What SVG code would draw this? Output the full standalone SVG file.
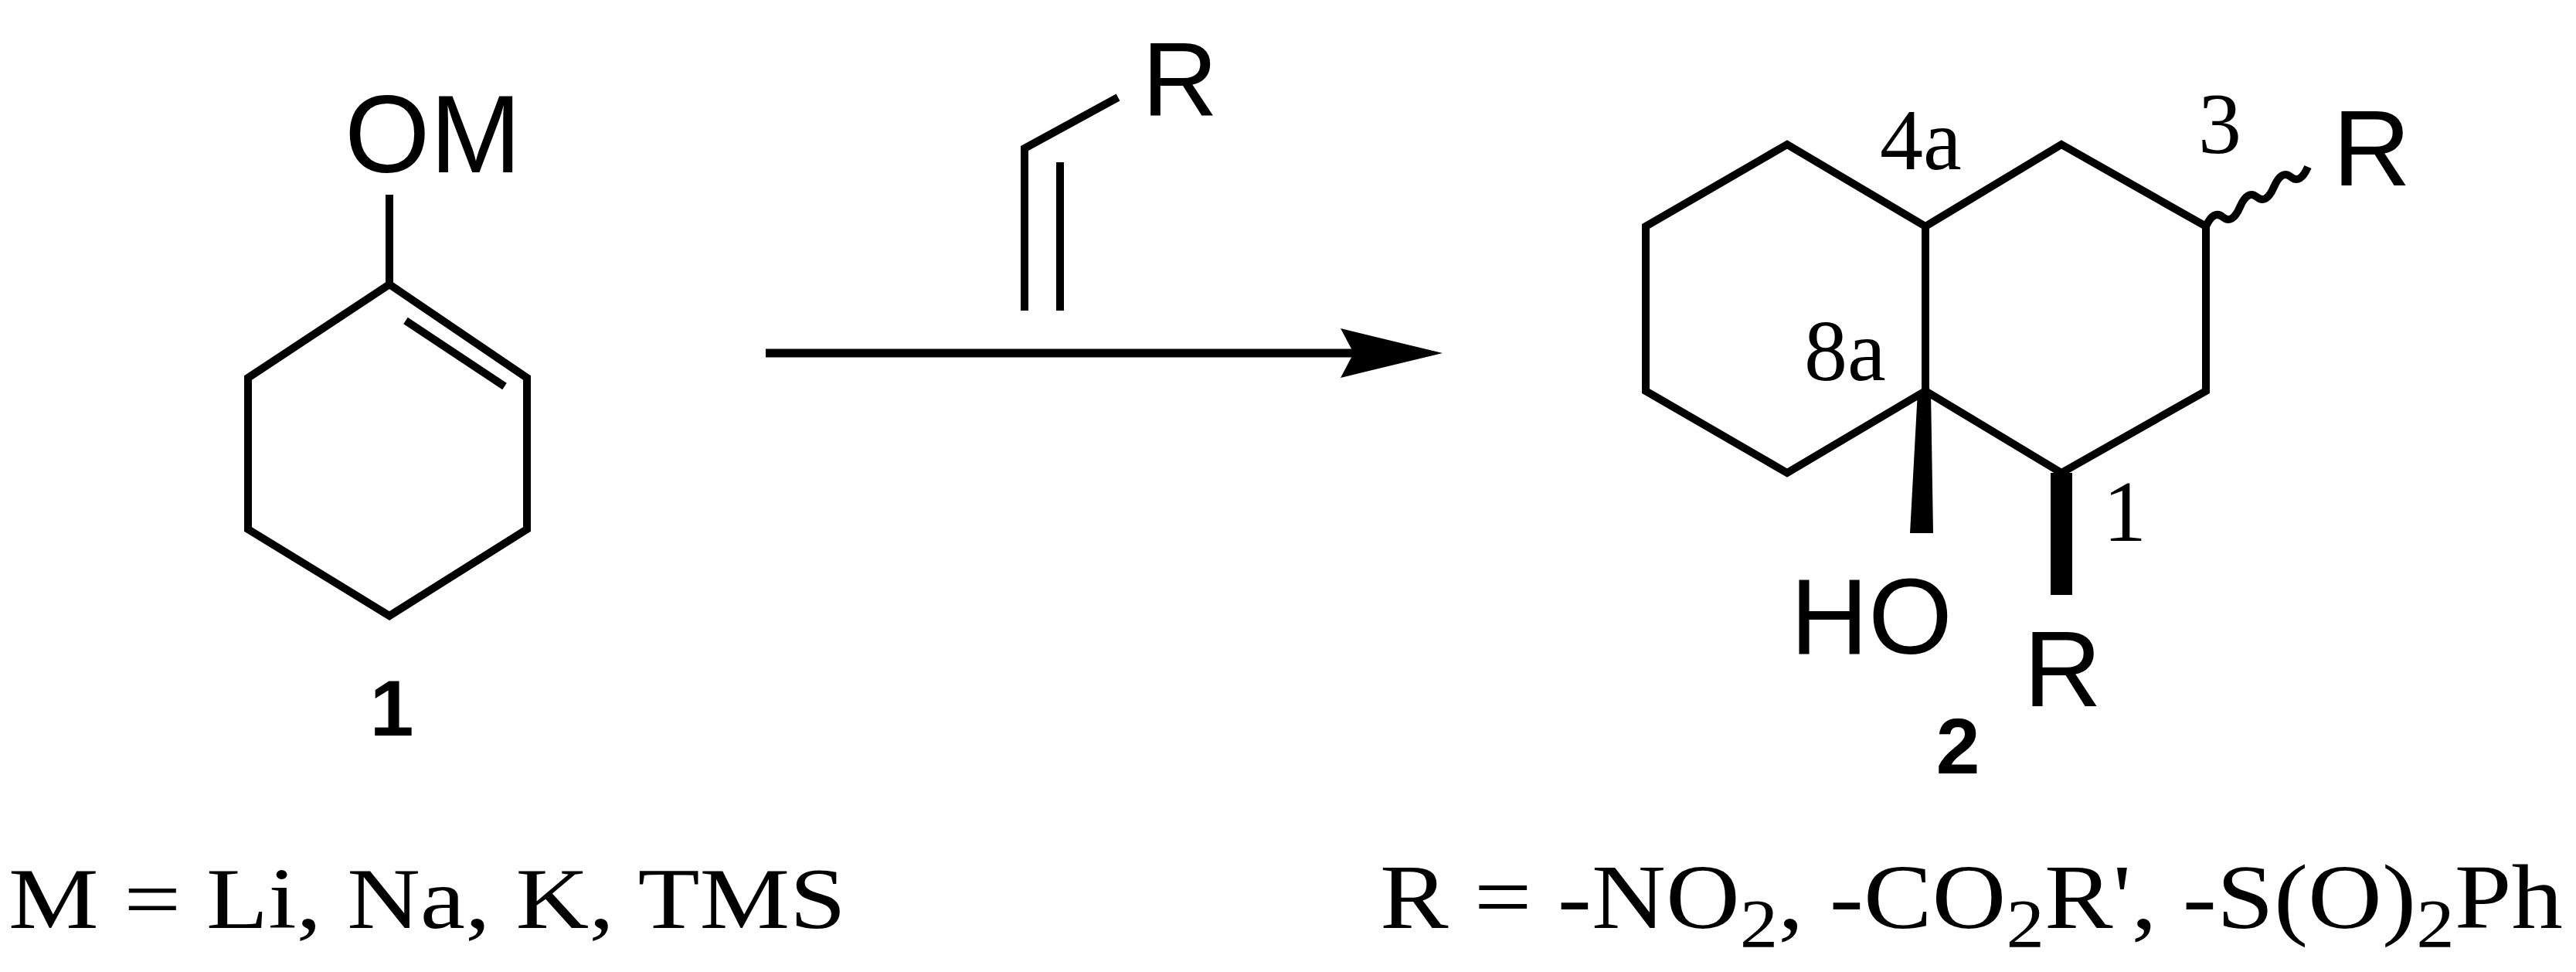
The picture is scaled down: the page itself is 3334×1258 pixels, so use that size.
<svg xmlns="http://www.w3.org/2000/svg" width="3334" height="1258" viewBox="0 0 3334 1258">
<style>
.b{fill:none;stroke:#000;stroke-width:10;stroke-linejoin:miter;stroke-linecap:butt}
.a{font-family:"Liberation Sans",Arial,sans-serif;fill:#000}
.t{font-family:"Liberation Serif","Times New Roman",serif;fill:#000}
</style>
<rect width="3334" height="1258" fill="#fff"/>
<g id="compound1">
<polygon class="b" points="504,368 682,489 682,685 504,797 321,685 321,489"/>
<line class="b" x1="504" y1="368" x2="504" y2="252"/>
<line class="b" x1="525" y1="415" x2="653" y2="500"/>
<text class="a" x="446" y="223" font-size="142">OM</text>
<text class="a" x="507" y="952" font-size="102" font-weight="bold" text-anchor="middle">1</text>
<text class="t" x="11" y="1201" font-size="112" textLength="1084" lengthAdjust="spacingAndGlyphs">M = Li, Na, K, TMS</text>
</g>
<g id="reagent">
<polyline class="b" points="1326,402 1326,192 1447,126"/>
<line class="b" x1="1372" y1="402" x2="1372" y2="210"/>
<text class="a" x="1478" y="150" font-size="136">R</text>
</g>
<g id="connectors">
<line x1="991" y1="457" x2="1760" y2="457" stroke="#000" stroke-width="11"/>
<polygon points="1867,457 1735,425 1752,457 1735,489" fill="#000"/>
</g>
<g id="compound2">
<polygon class="b" points="2313,187 2130,293 2130,506 2313,612 2492,506 2492,293"/>
<polyline class="b" points="2492,293 2668,187 2855,293 2855,506 2668,612 2492,506"/>
<polygon points="2499,506 2482,506 2472,690 2502,690" fill="#000"/>
<polygon points="2654,612 2682,612 2682,770 2654,770" fill="#000"/>
<path class="b" stroke-width="7" d="M2855,293 q10,-22 22,-12 t22,-13 t22,-13 t22,-13 t22,-13 t22,-13"/>
<text class="a" x="3019" y="240" font-size="140">R</text>
<text class="a" x="2317" y="846" font-size="140">HO</text>
<text class="a" x="2619" y="914" font-size="140">R</text>
<text class="a" x="2534" y="1001" font-size="102" font-weight="bold" text-anchor="middle">2</text>
<text class="t" x="2433" y="219" font-size="112">4a</text>
<text class="t" x="2845" y="198" font-size="112">3</text>
<text class="t" x="2335" y="492" font-size="112">8a</text>
<text class="t" x="2722" y="700" font-size="112">1</text>
<text class="t" x="1786" y="1201" font-size="118" textLength="1531" lengthAdjust="spacingAndGlyphs">R = -NO<tspan dy="24" font-size="88">2</tspan><tspan dy="-24">, -CO</tspan><tspan dy="24" font-size="88">2</tspan><tspan dy="-24">R', -S(O)</tspan><tspan dy="24" font-size="88">2</tspan><tspan dy="-24">Ph</tspan></text>
</g>
</svg>
